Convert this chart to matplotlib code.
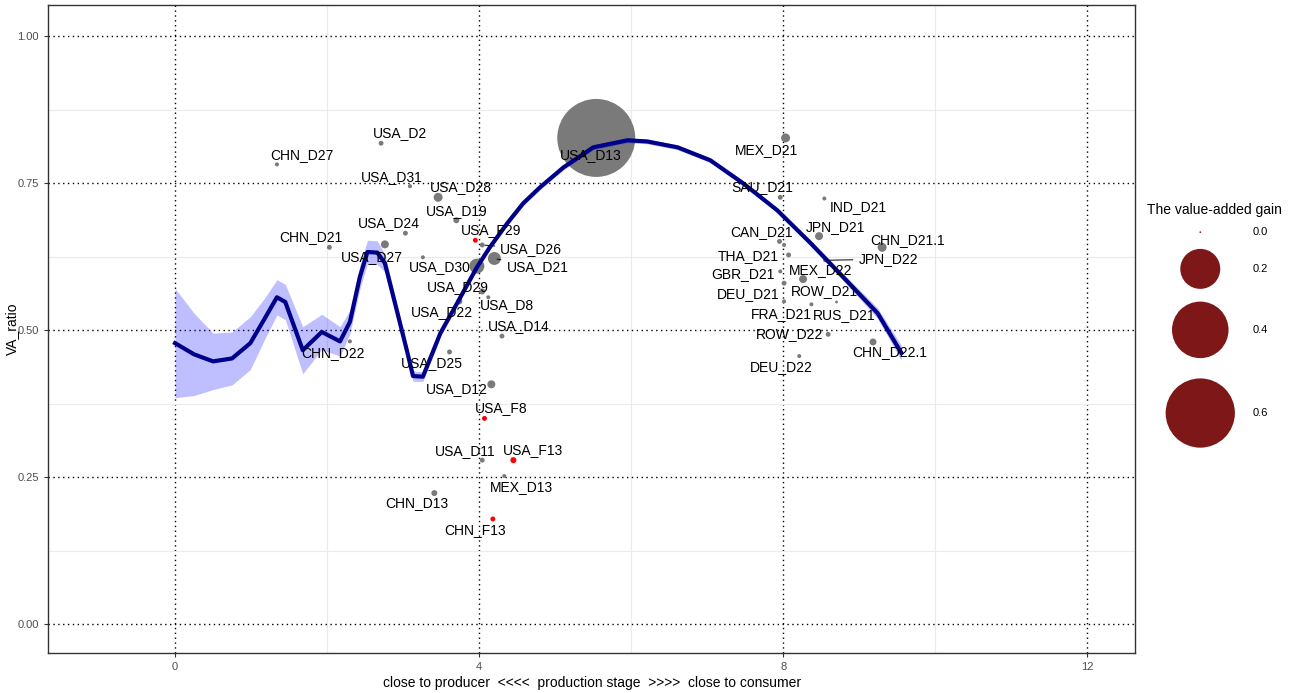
import matplotlib
matplotlib.use("Agg")
import matplotlib.pyplot as plt
import numpy as np

plt.rcParams['font.family'] = ['Liberation Sans', 'DejaVu Sans']

# labelled points: name, production stage, VA ratio, value-added gain
names = ['USA_D2', 'CHN_D27', 'USA_D31', 'USA_D28', 'USA_D19', 'USA_D24', 'USA_F29',
         'CHN_D21', 'USA_D27', 'USA_D26', 'USA_D21', 'USA_D30', 'USA_D29', 'USA_D8',
         'USA_D22', 'USA_D14', 'USA_D25', 'USA_D12', 'USA_F8', 'USA_D11', 'USA_F13',
         'MEX_D13', 'CHN_D13', 'CHN_F13', 'CHN_D22', 'USA_D13', 'MEX_D21', 'SAU_D21',
         'IND_D21', 'JPN_D21', 'CHN_D21.1', 'CAN_D21', 'THA_D21', 'JPN_D22', 'GBR_D21',
         'MEX_D22', 'DEU_D21', 'FRA_D21', 'ROW_D21', 'RUS_D21', 'ROW_D22', 'CHN_D22.1',
         'DEU_D22', '', '']
stage = [2.71, 1.34, 3.09, 3.46, 3.70, 3.03, 3.95,
         2.03, 2.76, 4.04, 4.20, 3.97, 4.04, 4.12,
         3.74, 4.30, 3.61, 4.16, 4.07, 4.04, 4.45,
         4.33, 3.41, 4.18, 2.30, 5.54, 8.03, 7.96,
         8.54, 8.47, 9.30, 7.95, 8.07, 8.55, 7.96,
         8.26, 8.01, 8.01, 8.37, 8.70, 8.59, 9.18,
         8.21, 3.26, 8.01]
va_ratio = [0.818, 0.782, 0.745, 0.726, 0.687, 0.665, 0.653,
            0.641, 0.646, 0.645, 0.622, 0.609, 0.566, 0.556,
            0.549, 0.490, 0.463, 0.408, 0.350, 0.279, 0.279,
            0.252, 0.223, 0.179, 0.481, 0.827, 0.827, 0.726,
            0.724, 0.660, 0.641, 0.651, 0.628, 0.619, 0.600,
            0.587, 0.580, 0.549, 0.544, 0.548, 0.493, 0.480,
            0.456, 0.624, 0.645]
gain = [0.003, 0.002, 0.002, 0.010, 0.0045, 0.003, 0.003,
        0.003, 0.008, 0.003, 0.021, 0.028, 0.0045, 0.002,
        0.0045, 0.003, 0.003, 0.008, 0.003, 0.003, 0.0045,
        0.002, 0.0045, 0.003, 0.002, 0.76, 0.010, 0.003,
        0.002, 0.008, 0.010, 0.003, 0.003, 0.002, 0.002,
        0.008, 0.003, 0.002, 0.002, 0.001, 0.003, 0.006,
        0.002, 0.002, 0.002]

# smoothed trend and its confidence half-width
curve_x = [0, 0.25, 0.5, 0.75, 0.99, 1.18, 1.34, 1.45, 1.68, 1.93, 2.17, 2.30, 2.43,
           2.53, 2.66, 2.76, 2.92, 3.05, 3.13, 3.26, 3.49, 3.71, 3.97, 4.14, 4.37,
           4.58, 4.80, 5.11, 5.50, 5.95, 6.21, 6.61, 7.04, 7.47, 7.92, 8.36, 8.79,
           9.24, 9.55]
curve_y = [0.478, 0.459, 0.447, 0.452, 0.478, 0.520, 0.556, 0.548, 0.466, 0.497, 0.481,
           0.514, 0.590, 0.633, 0.632, 0.614, 0.532, 0.465, 0.422, 0.421, 0.495, 0.546,
           0.607, 0.641, 0.682, 0.716, 0.743, 0.777, 0.811, 0.823, 0.821, 0.811, 0.789,
           0.750, 0.704, 0.648, 0.590, 0.529, 0.462]
curve_se = [0.093, 0.07, 0.048, 0.045, 0.045, 0.035, 0.03, 0.03, 0.04, 0.03, 0.025,
            0.02, 0.02, 0.02, 0.02, 0.015, 0.012, 0.01, 0.009, 0.008, 0.006, 0.005,
            0.005, 0.004, 0.004, 0.004, 0.004, 0.004, 0.004, 0.004, 0.004, 0.004,
            0.004, 0.004, 0.004, 0.005, 0.006, 0.009, 0.013]

legend_vals = [0.0, 0.2, 0.4, 0.6]

# label nudges in pixels (dx right, dy up) and which labels get a leader line
nudge = {'USA_D2': (19, 10), 'CHN_D27': (25, 9), 'USA_D31': (-18, 9), 'USA_D28': (23, 10),
         'USA_D19': (0, 9), 'USA_D24': (-17, 10), 'USA_F29': (16, 10), 'CHN_D21': (-19, 10),
         'USA_D27': (-13, -13), 'USA_D26': (49, -4), 'USA_D21': (43, -9), 'USA_D30': (-37, -1),
         'USA_D29': (-24, 4), 'USA_D8': (19, -8), 'USA_D22': (-17, -11), 'USA_D14': (17, 10),
         'USA_D25': (-18, -11), 'USA_D12': (-35, -5), 'USA_F8': (17, 10), 'USA_D11': (-17, 9),
         'USA_F13': (20, 10), 'MEX_D13': (17, -11), 'CHN_D13': (-17, -10), 'CHN_F13': (-18, -11),
         'CHN_D22': (-17, -12), 'USA_D13': (-6, -17), 'MEX_D21': (-19, -12), 'SAU_D21': (-18, 10),
         'IND_D21': (34, -9), 'JPN_D21': (16, 9), 'CHN_D21.1': (25, 7), 'CAN_D21': (-18, 9),
         'THA_D21': (-40, -1), 'JPN_D22': (63, 1), 'GBR_D21': (-37, -3), 'MEX_D22': (18, 9),
         'DEU_D21': (-36, -11), 'FRA_D21': (-3, -13), 'ROW_D21': (13, 13), 'RUS_D21': (8, -13),
         'ROW_D22': (-39, 0), 'CHN_D22.1': (17, -10), 'DEU_D22': (-18, -11)}
leaders = ['USA_D26', 'USA_D21', 'JPN_D22']

S = 4145  # points^2 per unit of gain (area scale)

fig = plt.figure(figsize=(12.99, 6.93), dpi=100)
ax = fig.add_axes([0.037, 0.0577, 0.837, 0.935])

ax.set_xlim(-1.67, 12.63)
ax.set_ylim(-0.049, 1.053)
ax.set_xticks([0, 4, 8, 12])
ax.set_yticks([0, 0.25, 0.5, 0.75, 1.0])
ax.set_yticklabels(['0.00', '0.25', '0.50', '0.75', '1.00'])
ax.set_xticks([2, 6, 10], minor=True)
ax.set_yticks([0.125, 0.375, 0.625, 0.875], minor=True)
ax.grid(which='minor', color='#EBEBEB', lw=0.8, ls='-')
ax.grid(which='major', color='black', lw=1.0, ls=(0, (1, 2.5)))
ax.set_axisbelow(True)
ax.tick_params(which='minor', length=0)
ax.tick_params(which='major', length=3, color='#333333', labelsize=8, labelcolor='#4D4D4D')
for sp in ax.spines.values():
    sp.set_color('#333333')
    sp.set_linewidth(1.0)

ax.set_xlabel('close to producer  <<<<  production stage  >>>>  close to consumer', fontsize=10, labelpad=3)
ax.set_ylabel('VA_ratio', fontsize=10, va='center')
ax.yaxis.set_label_coords(-0.033, 0.5)

# points
cols = ['#FF0000' if '_F' in n else '#7A7A7A' for n in names]
ax.scatter(stage, va_ratio, s=np.array(gain) * S, c=cols, edgecolors='none', zorder=2)

# trend with band
cx = np.array(curve_x)
cy = np.array(curve_y)
ce = np.array(curve_se)
ax.fill_between(cx, cy - ce, cy + ce, color='#0000FF', alpha=0.25, lw=0, zorder=3)
ax.plot(cx, cy, color='#00008B', lw=3, zorder=4)

# labels
for n, x, y in zip(names, stage, va_ratio):
    if not n:
        continue
    dx, dy = nudge[n]
    kw = {}
    if n in leaders:
        kw['arrowprops'] = dict(arrowstyle='-', color='black', lw=0.7, shrinkA=2, shrinkB=2)
    ax.annotate(n, (x, y), xytext=(dx, dy), textcoords='offset pixels',
                ha='center', va='center', fontsize=10, color='black', zorder=5, **kw)

# size legend
lax = fig.add_axes([0, 0, 1, 1])
lax.set_xlim(0, 1)
lax.set_ylim(0, 1)
lax.axis('off')
lax.text(0.935, 0.697, 'The value-added gain', ha='center', va='center', fontsize=10)
key_y = [0.665, 0.612, 0.524, 0.404]
for v, ky in zip(legend_vals, key_y):
    lax.scatter([0.924], [ky], s=max(v * S, 1.5), color='#7E1818', edgecolors='none')
    lax.text(0.9646, ky, '%.1f' % v, ha='left', va='center', fontsize=8)

fig.savefig('out.png', dpi=100)
